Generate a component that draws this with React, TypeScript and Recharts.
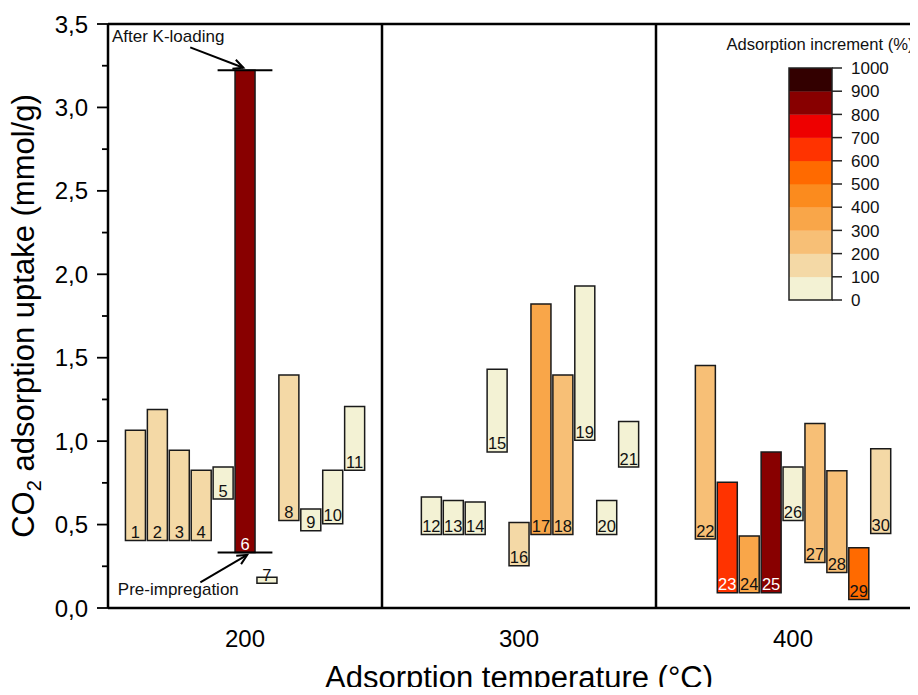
import { ComposedChart, Bar, XAxis, YAxis, Cell, LabelList, ReferenceLine, Label } from 'recharts';

// ─── Data ─────────────────────────────────────────────────────
const sampleIds = [1, 2, 3, 4, 5, 6, 7, 8, 9, 10, 11, 12, 13, 14, 15, 16, 17, 18, 19, 20, 21, 22, 23, 24, 25, 26, 27, 28, 29, 30];
// slot positions on the temperature axis (bars grouped around 200 / 300 / 400 °C)
const slotX = [160, 168, 176, 184, 192, 200, 208, 216, 224, 232, 240, 268, 276, 284, 292, 300, 308, 316, 324, 332, 340, 368, 376, 384, 392, 400, 408, 416, 424, 432];
const preImpregnation = [0.405, 0.405, 0.405, 0.405, 0.653, 0.333, 0.149, 0.525, 0.463, 0.505, 0.825, 0.441, 0.441, 0.441, 0.935, 0.253, 0.441, 0.441, 1.005, 0.441, 0.845, 0.413, 0.091, 0.091, 0.091, 0.525, 0.273, 0.213, 0.051, 0.447];
const afterKLoading = [1.065, 1.189, 0.945, 0.825, 0.845, 3.223, 0.185, 1.397, 0.593, 0.825, 1.207, 0.665, 0.645, 0.635, 1.431, 0.513, 1.822, 1.397, 1.930, 0.645, 1.117, 1.453, 0.753, 0.431, 0.935, 0.845, 1.105, 0.823, 0.361, 0.955];
const incrementPct = [160, 190, 130, 105, 30, 860, 25, 165, 28, 63, 46, 50, 46, 44, 53, 102, 312, 215, 92, 46, 32, 250, 690, 358, 890, 61, 290, 282, 570, 113];

const legendTicks = [0, 100, 200, 300, 400, 500, 600, 700, 800, 900, 1000];
const binColors = ['#F3F2D4', '#F4D9A6', '#F7BF76', '#F9A649', '#FB8B1E', '#FF6A00', '#FF3300', '#EE0000', '#880000', '#330000'];

const tempTicks = [200, 300, 400];
const upTicks = [0, 0.25, 0.5, 0.75, 1, 1.25, 1.5, 1.75, 2, 2.25, 2.5, 2.75, 3, 3.25, 3.5];

const FONT = '"Liberation Sans", Arial, Helvetica, sans-serif';

const colorFor = (pct: number) => binColors[Math.min(binColors.length - 1, Math.floor(pct / 100))];

const chartData = sampleIds.map((id, i) => ({
    id,
    x: slotX[i],
    range: [preImpregnation[i], afterKLoading[i]],
    inc: incrementPct[i],
}));

// ─── Ticks / labels ───────────────────────────────────────────

// eslint-disable-next-line @typescript-eslint/no-explicit-any
const YTick = ({ x, y, payload }: any) => {
    const v = payload.value as number;
    const major = Math.abs(v * 2 - Math.round(v * 2)) < 1e-6;
    return (
        <g>
            <line x1={x - (major ? 11 : 6)} x2={x} y1={y} y2={y} stroke="#000" strokeWidth={1.8} />
            {major && (
                <text x={x - 20} y={y} dy="0.36em" textAnchor="end" fontSize={24} fontFamily={FONT} fill="#000">
                    {v.toFixed(1).replace('.', ',')}
                </text>
            )}
        </g>
    );
};

// eslint-disable-next-line @typescript-eslint/no-explicit-any
const XTick = ({ x, y, payload }: any) => (
    <text x={x} y={y + 38.5} textAnchor="middle" fontSize={24} fontFamily={FONT} fill="#000">
        {payload.value}
    </text>
);

// eslint-disable-next-line @typescript-eslint/no-explicit-any
const BarNumber = ({ x, y, width, height, value }: any) => {
    const bottom = Math.max(y, y + height);
    const white = incrementPct[(value as number) - 1] >= 600;
    return (
        <text x={x + width / 2} y={bottom - 2.5} textAnchor="middle" fontSize={16.5} fontFamily={FONT} fill={white ? '#fff' : '#111'}>
            {value}
        </text>
    );
};

// eslint-disable-next-line @typescript-eslint/no-explicit-any
const Arrow = ({ x1, y1, x2, y2, text, tdx, tdy }: any) => {
    const a = Math.atan2(y2 - y1, x2 - x1);
    const L = 11;
    const w = 0.45;
    return (
        <g>
            <line x1={x1} y1={y1} x2={x2} y2={y2} stroke="#000" strokeWidth={2} />
            <polyline
                points={`${x2 - L * Math.cos(a - w)},${y2 - L * Math.sin(a - w)} ${x2},${y2} ${x2 - L * Math.cos(a + w)},${y2 - L * Math.sin(a + w)}`}
                fill="none" stroke="#000" strokeWidth={2}
            />
            <text x={x1 + tdx} y={y1 + tdy} textAnchor="middle" fontSize={17} fontFamily={FONT} fill="#111">{text}</text>
        </g>
    );
};

// ─── Colour-bar legend ────────────────────────────────────────

function ColorBar() {
    const left = 789, top = 68, w = 43, step = 23.2;
    const h = step * binColors.length;
    return (
        <svg width={918} height={695} style={{ position: 'absolute', left: 0, top: 0, pointerEvents: 'none' }}>
            <text x={820} y={50} textAnchor="middle" fontSize={16.6} fontFamily={FONT} fill="#111">Adsorption increment (%)</text>
            {binColors.map((c, i) => (
                <rect key={i} x={left} y={top + h - (i + 1) * step} width={w} height={step + 0.3} fill={c} />
            ))}
            <rect x={left} y={top} width={w} height={h} fill="none" stroke="#222" strokeWidth={1.5} />
            {legendTicks.map((t, i) => {
                const yy = top + h - i * step;
                return (
                    <g key={t}>
                        <line x1={left + w} x2={left + w + 10} y1={yy} y2={yy} stroke="#222" strokeWidth={1.5} />
                        <text x={left + w + 19} y={yy} dy="0.36em" fontSize={17} fontFamily={FONT} fill="#111">{t}</text>
                    </g>
                );
            })}
        </svg>
    );
}

// ─── Chart ────────────────────────────────────────────────────

export default function App() {
    const i6 = 5;
    return (
        <div style={{ position: 'relative', width: 918, height: 695, margin: -8, overflow: 'hidden', background: '#fff' }}>
            <ComposedChart width={938} height={695} data={chartData} margin={{ top: 24, right: 8, left: 0, bottom: 26 }}>
                <XAxis
                    type="number" dataKey="x" domain={[150, 450]} ticks={tempTicks} allowDataOverflow
                    tick={<XTick />} tickLine={false} tickSize={0} tickMargin={0} height={61}
                    axisLine={{ stroke: '#000', strokeWidth: 2.5 }}
                >
                    <Label
                        content={({ viewBox }: any) => (
                            <text x={viewBox.x + viewBox.width / 2} y={viewBox.y + 80} textAnchor="middle" fontSize={31} fontFamily={FONT} fill="#000">
                                Adsorption temperature (°C)
                            </text>
                        )}
                    />
                </XAxis>
                <YAxis
                    type="number" domain={[0, 3.5]} ticks={upTicks} allowDataOverflow interval={0}
                    tick={<YTick />} tickLine={false} tickSize={0} tickMargin={0} width={108}
                    axisLine={{ stroke: '#000', strokeWidth: 2.5 }}
                >
                    <Label
                        content={({ viewBox }: any) => {
                            const cx = 34;
                            const cy = viewBox.y + viewBox.height / 2;
                            return (
                                <text x={cx} y={cy} transform={`rotate(-90 ${cx} ${cy})`} textAnchor="middle" fontSize={31} fontFamily={FONT} fill="#000">
                                    CO<tspan dy={7} fontSize={20}>2</tspan><tspan dy={-7}> adsorption uptake (mmol/g)</tspan>
                                </text>
                            );
                        }}
                    />
                </YAxis>

                <ReferenceLine y={3.5} stroke="#000" strokeWidth={2.5} />
                <ReferenceLine x={250} stroke="#000" strokeWidth={2.5} />
                <ReferenceLine x={350} stroke="#000" strokeWidth={2.5} />

                <Bar dataKey="range" barSize={20} stroke="#1a1a1a" strokeWidth={1.5} isAnimationActive={false}>
                    {chartData.map((d) => (
                        <Cell key={d.id} fill={colorFor(d.inc)} />
                    ))}
                    <LabelList dataKey="id" content={<BarNumber />} />
                </Bar>

                {/* caps on sample 6 */}
                <ReferenceLine
                    segment={[{ x: slotX[i6] - 10, y: afterKLoading[i6] }, { x: slotX[i6] + 10, y: afterKLoading[i6] }]}
                    stroke="#000" strokeWidth={2}
                />
                <ReferenceLine
                    segment={[{ x: slotX[i6] - 10, y: preImpregnation[i6] }, { x: slotX[i6] + 10, y: preImpregnation[i6] }]}
                    stroke="#000" strokeWidth={2}
                />
                <ReferenceLine
                    segment={[{ x: 180, y: 3.36 }, { x: slotX[i6] - 0.6, y: afterKLoading[i6] + 0.015 }]}
                    shape={(p: any) => <Arrow {...p} text="After K-loading" tdx={-22} tdy={-5} />}
                />
                <ReferenceLine
                    segment={[{ x: 183.7, y: 0.153 }, { x: slotX[i6] + 0.8, y: preImpregnation[i6] - 0.015 }]}
                    shape={(p: any) => <Arrow {...p} text="Pre-impregation" tdx={-22} tdy={13} />}
                />
            </ComposedChart>
            <ColorBar />
        </div>
    );
}
